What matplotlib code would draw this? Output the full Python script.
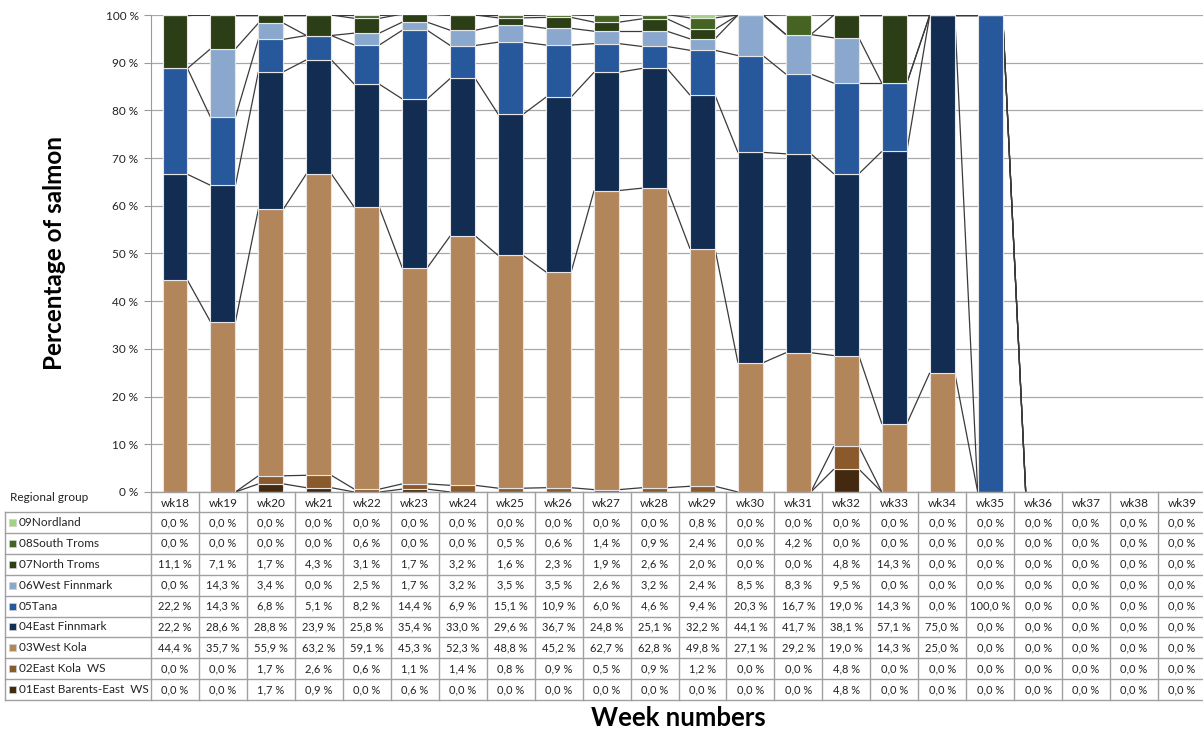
import numpy as np
import matplotlib.pyplot as plt

plt.rcParams['font.family'] = ['Lato', 'DejaVu Sans']

weeks = ["wk%d" % w for w in range(18, 40)]

# percentages per regional group, wk18 .. wk39
east_barents = [0, 0, 1.7, 0.9, 0, 0.6, 0, 0, 0, 0, 0, 0, 0, 0, 4.8, 0, 0, 0, 0, 0, 0, 0]
east_kola = [0, 0, 1.7, 2.6, 0.6, 1.1, 1.4, 0.8, 0.9, 0.5, 0.9, 1.2, 0, 0, 4.8, 0, 0, 0, 0, 0, 0, 0]
west_kola = [44.4, 35.7, 55.9, 63.2, 59.1, 45.3, 52.3, 48.8, 45.2, 62.7, 62.8, 49.8, 27.1, 29.2, 19.0, 14.3, 25.0, 0, 0, 0, 0, 0]
east_finnmark = [22.2, 28.6, 28.8, 23.9, 25.8, 35.4, 33.0, 29.6, 36.7, 24.8, 25.1, 32.2, 44.1, 41.7, 38.1, 57.1, 75.0, 0, 0, 0, 0, 0]
tana = [22.2, 14.3, 6.8, 5.1, 8.2, 14.4, 6.9, 15.1, 10.9, 6.0, 4.6, 9.4, 20.3, 16.7, 19.0, 14.3, 0, 100.0, 0, 0, 0, 0]
west_finnmark = [0, 14.3, 3.4, 0, 2.5, 1.7, 3.2, 3.5, 3.5, 2.6, 3.2, 2.4, 8.5, 8.3, 9.5, 0, 0, 0, 0, 0, 0, 0]
north_troms = [11.1, 7.1, 1.7, 4.3, 3.1, 1.7, 3.2, 1.6, 2.3, 1.9, 2.6, 2.0, 0, 0, 4.8, 14.3, 0, 0, 0, 0, 0, 0]
south_troms = [0, 0, 0, 0, 0.6, 0, 0, 0.5, 0.6, 1.4, 0.9, 2.4, 0, 4.2, 0, 0, 0, 0, 0, 0, 0, 0]
nordland = [0, 0, 0, 0, 0, 0, 0, 0, 0, 0, 0, 0.8, 0, 0, 0, 0, 0, 0, 0, 0, 0, 0]

groups = ["01East Barents-East  WS", "02East Kola  WS", "03West Kola", "04East Finnmark",
          "05Tana", "06West Finnmark", "07North Troms", "08South Troms", "09Nordland"]
series = [east_barents, east_kola, west_kola, east_finnmark, tana,
          west_finnmark, north_troms, south_troms, nordland]
colors = ["#43290f", "#8a5a2c", "#b3855a", "#132c52", "#27589b",
          "#8aa8ce", "#2c3e16", "#456423", "#a5d27f"]

W, H = 1203, 729
fig = plt.figure(figsize=(W / 100, H / 100), dpi=100)

# pixel layout of plot area / table
x_left, x_right = 151, 1206
y_top, y_base = 15, 492
ax = fig.add_axes([x_left / W, 1 - y_base / H, (x_right - x_left) / W, (y_base - y_top) / H])

n = len(weeks)
x = np.arange(n)
bw = 0.52
bottom = np.zeros(n)
tops = []
for vals, col in zip(series, colors):
    vals = np.array(vals, dtype=float)
    ax.bar(x, vals, bw, bottom=bottom, color=col, edgecolor="#e6e6e6", linewidth=0.8, zorder=3)
    bottom = bottom + vals
    tops.append(bottom.copy())

# series lines (Excel style) between adjacent bars
for top in tops:
    for i in range(n - 1):
        if top[i] == 0 and top[i + 1] == 0:
            continue
        ax.plot([x[i] + bw / 2, x[i + 1] - bw / 2], [top[i], top[i + 1]],
                color="#3a3a3a", lw=0.9, zorder=2, solid_capstyle="butt")

ax.set_xlim(-0.5, n - 0.5)
ax.set_ylim(0, 100)
ax.set_yticks(np.arange(0, 101, 10))
ax.set_yticklabels(["%d %%" % v for v in range(0, 101, 10)], fontsize=8.5, color="#222222")
ax.set_xticks([])
ax.tick_params(axis="y", length=5, color="#9a9a9a", pad=4)
ax.grid(axis="y", color="#a8a8a8", lw=0.9, zorder=0)
for s in ["top", "right", "bottom"]:
    ax.spines[s].set_visible(False)
ax.spines["left"].set_color("#9a9a9a")
ax.set_axisbelow(True)

# data table below the chart, in pixel coordinates
tab = fig.add_axes([0, 0, 1, 1])
tab.set_xlim(0, W)
tab.set_ylim(H, 0)
tab.axis("off")

colw = (x_right - x_left) / n
hdr_bot = 512
rowh = 20.9
tab_bot = hdr_bot + rowh * 9
grid_c = "#a0a0a0"

for j in range(n + 1):
    xx = x_left + j * colw
    tab.plot([xx, xx], [y_base, tab_bot], color=grid_c, lw=1)
tab.plot([5, 5], [hdr_bot, tab_bot], color=grid_c, lw=1)
tab.plot([x_left, x_right], [y_base, y_base], color=grid_c, lw=1)
for r in range(10):
    yy = hdr_bot + r * rowh
    tab.plot([5, x_right], [yy, yy], color=grid_c, lw=1)

for j, wk in enumerate(weeks):
    tab.text(x_left + (j + 0.5) * colw, (y_base + hdr_bot) / 2 + 1, wk,
             ha="center", va="center", fontsize=8.5, color="#222222")

tab.text(10, 497, "Regional group", ha="left", va="center", fontsize=8.5, color="#222222")

for r in range(9):
    k = 8 - r
    yc = hdr_bot + (r + 0.5) * rowh
    tab.add_patch(plt.Rectangle((9, yc - 3.5), 7, 7, facecolor=colors[k], edgecolor="#d0d0d0", lw=0.5))
    tab.text(19, yc, groups[k], ha="left", va="center", fontsize=8.5, color="#222222")
    for j in range(n):
        lbl = ("%.1f" % series[k][j]).replace(".", ",") + " %"
        tab.text(x_left + (j + 0.5) * colw, yc, lbl, ha="center", va="center",
                 fontsize=8, color="#222222")

fig.text(55 / W, 1 - 253 / H, "Percentage of salmon", rotation=90, ha="center", va="center",
         fontsize=17.5, fontweight="bold", color="black")
fig.text(678 / W, 1 - 718 / H, "Week numbers", ha="center", va="center",
         fontsize=18.5, fontweight="bold", color="black")

fig.savefig("out.png", dpi=100)
